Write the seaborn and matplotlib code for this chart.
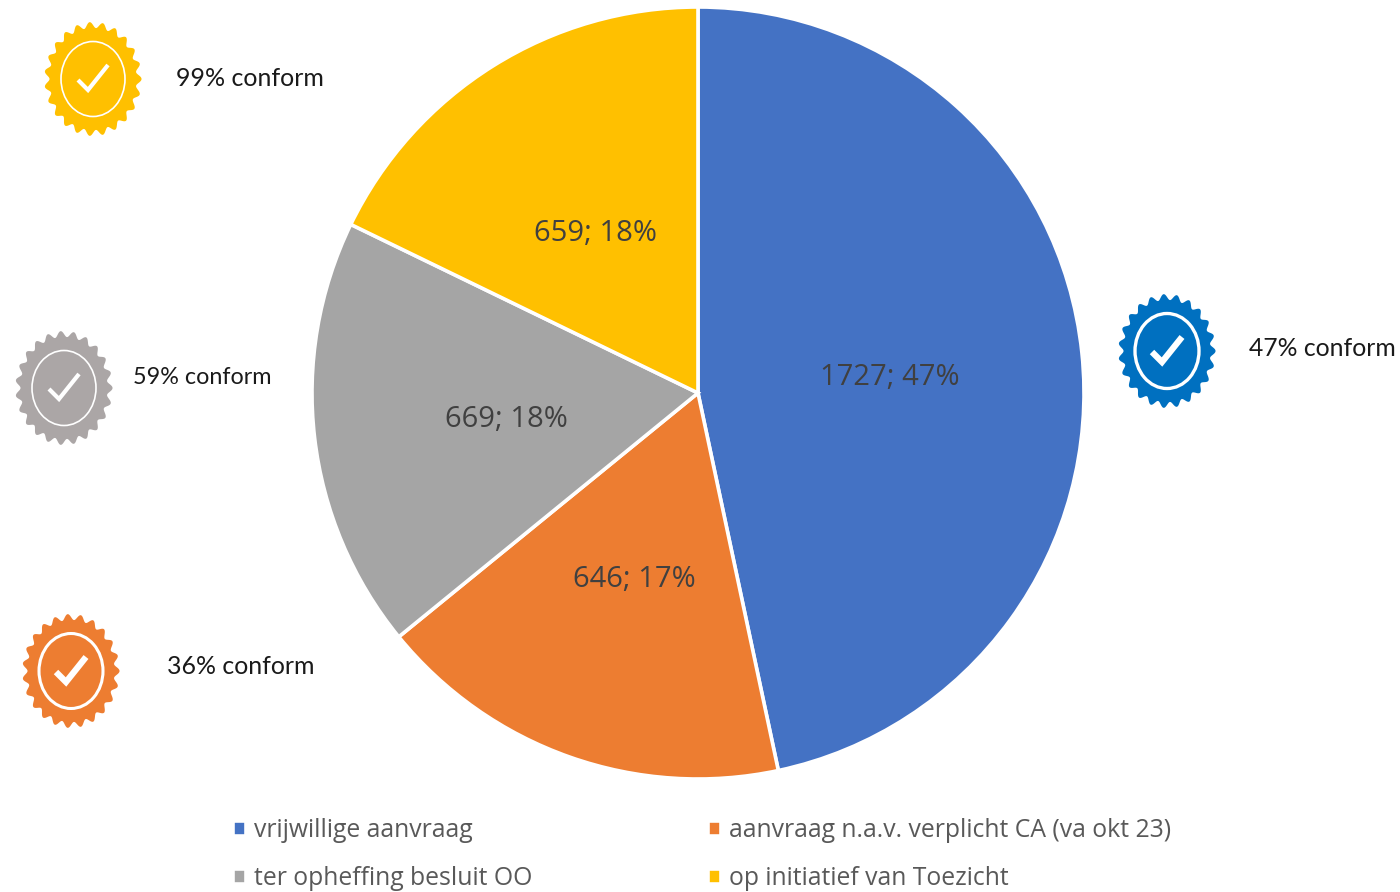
import matplotlib

matplotlib.use("Agg")
import matplotlib.pyplot as plt
import numpy as np
import seaborn as sns
from matplotlib.patches import Ellipse, Polygon

categories = [
    "vrijwillige aanvraag",
    "aanvraag n.a.v. verplicht CA (va okt 23)",
    "ter opheffing besluit OO",
    "op initiatief van Toezicht",
]
values = [1727, 646, 669, 659]
percents = [47, 17, 18, 18]
colors = ["#4472C4", "#ED7D31", "#A5A5A5", "#FFC000"]

badge_labels = ["99% conform", "59% conform", "36% conform", "47% conform"]
badge_colors = ["#FFC000", "#ABA6A6", "#ED7D31", "#0070C0"]

sns.set_theme(style="white")
plt.rcParams["font.family"] = ["Open Sans", "DejaVu Sans"]

W, H = 1400, 892
fig = plt.figure(figsize=(W / 100, H / 100), dpi=100)

# pie, box is in pixels of the reference
cx, cy, radius = 698, 393, 386
ax = fig.add_axes(
    [(cx - radius) / W, (H - cy - radius) / H, 2 * radius / W, 2 * radius / H]
)
labels_iter = iter(f"{v}; {p}%" for v, p in zip(values, percents))
wedges, _, autotexts = ax.pie(
    values,
    colors=sns.color_palette(colors),
    startangle=90,
    counterclock=False,
    autopct=lambda pct: next(labels_iter),
    pctdistance=0.5,
    wedgeprops={"edgecolor": "white", "linewidth": 2.6},
    textprops={"fontsize": 21, "color": "#404040"},
)
ax.set_xlim(-1, 1)
ax.set_ylim(-1, 1)
for t in autotexts:
    t.set_y(t.get_position()[1] - 0.011)

# column-first fill, so swap the middle two to get the row order
order = [0, 2, 1, 3]
fig.legend(
    [wedges[i] for i in order],
    [categories[i] for i in order],
    ncol=2,
    loc="upper left",
    bbox_to_anchor=(233 / W, 1 - 818 / H),
    frameon=False,
    fontsize=17.85,
    labelcolor="#595959",
    handlelength=0.53,
    handleheight=0.55,
    handletextpad=0.32,
    labelspacing=0.92,
    columnspacing=7.08,
    borderpad=0,
    borderaxespad=0,
)

# overlay in pixel coordinates for the badges
over = fig.add_axes([0, 0, 1, 1], facecolor="none")
over.set_xlim(0, W)
over.set_ylim(H, 0)
over.axis("off")


def draw_badge(bx, by, color, ring_lw, check_lw):
    theta = np.linspace(0, 2 * np.pi, 720)
    r = 1 + 0.055 * np.cos(23 * theta)
    pts = np.column_stack([bx + 46 * r * np.cos(theta), by + 54 * r * np.sin(theta)])
    over.add_patch(Polygon(pts, closed=True, facecolor=color, edgecolor="none"))
    over.add_patch(
        Ellipse((bx, by), 64, 75, facecolor="none", edgecolor="white", lw=ring_lw)
    )
    over.plot(
        [bx - 15, bx - 5, bx + 15],
        [by + 1, by + 11, by - 14],
        color="white",
        lw=check_lw,
        solid_capstyle="butt",
        solid_joinstyle="miter",
    )


badge_xy = [(93, 79), (64, 388), (71, 671), (1167, 351)]
badge_text_xy = [(176, 79), (133, 378), (167, 667), (1249, 348)]
badge_font_sizes = [18, 16.8, 17.9, 17.8]
ring_widths = [1.2, 1.2, 2.2, 2.4]
check_widths = [3, 3, 4.5, 4.5]

for i, label in enumerate(badge_labels):
    draw_badge(*badge_xy[i], badge_colors[i], ring_widths[i], check_widths[i])
    over.text(
        *badge_text_xy[i],
        label,
        ha="left",
        va="center",
        fontsize=badge_font_sizes[i],
        family=["Lato", "DejaVu Sans"],
        color="#1a1a1a",
    )

fig.savefig("out.png", dpi=100)
